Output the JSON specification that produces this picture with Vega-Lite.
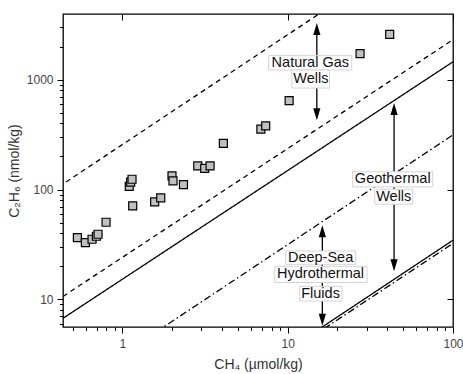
{
  "$schema": "https://vega.github.io/schema/vega-lite/v6.json",
  "width": 390,
  "height": 313,
  "autosize": {"type": "none"},
  "padding": {"left": 63, "top": 14, "right": 10, "bottom": 47},
  "config": {
    "view": {"stroke": "black", "strokeWidth": 1.3},
    "font": "Liberation Sans"
  },
  "datasets": {
    "lines": [
      {"id": "A", "style": "dash", "x": 0.3, "y": 77},
      {"id": "A", "style": "dash", "x": 20, "y": 5160},
      {"id": "B", "style": "dash", "x": 0.437, "y": 10.6},
      {"id": "B", "style": "dash", "x": 100, "y": 2320},
      {"id": "C", "style": "solid", "x": 0.437, "y": 6.7},
      {"id": "C", "style": "solid", "x": 100, "y": 1460},
      {"id": "D", "style": "dashdot", "x": 1.6, "y": 5.03},
      {"id": "D", "style": "dashdot", "x": 100, "y": 315},
      {"id": "E", "style": "solid", "x": 14, "y": 4.83},
      {"id": "E", "style": "solid", "x": 100, "y": 34.5},
      {"id": "F", "style": "dashdot", "x": 14, "y": 4.55},
      {"id": "F", "style": "dashdot", "x": 100, "y": 32.3}
    ],
    "points": [
      {"ch4": 0.534, "c2h6": 36.5},
      {"ch4": 0.597, "c2h6": 32.8},
      {"ch4": 0.655, "c2h6": 35.2},
      {"ch4": 0.696, "c2h6": 37.5},
      {"ch4": 0.712, "c2h6": 39.1},
      {"ch4": 0.796, "c2h6": 50.3},
      {"ch4": 1.154, "c2h6": 70.8},
      {"ch4": 1.10, "c2h6": 107},
      {"ch4": 1.122, "c2h6": 116.6},
      {"ch4": 1.143, "c2h6": 124},
      {"ch4": 1.567, "c2h6": 77},
      {"ch4": 1.706, "c2h6": 83.8},
      {"ch4": 1.995, "c2h6": 133},
      {"ch4": 2.023, "c2h6": 120},
      {"ch4": 2.34, "c2h6": 111},
      {"ch4": 2.855, "c2h6": 164},
      {"ch4": 3.147, "c2h6": 155.6},
      {"ch4": 3.39, "c2h6": 164},
      {"ch4": 4.08, "c2h6": 263},
      {"ch4": 6.88, "c2h6": 355},
      {"ch4": 7.36, "c2h6": 381},
      {"ch4": 10.2, "c2h6": 647},
      {"ch4": 27.4, "c2h6": 1730},
      {"ch4": 41.4, "c2h6": 2600}
    ],
    "arrows": [
      {"x": 15.0, "y": 2911, "y2": 486},
      {"x": 44.0, "y": 541, "y2": 20.4},
      {"x": 16.2, "y": 41.6, "y2": 6.5}
    ],
    "heads": [
      {"x": 15.0, "y": 2911, "dir": "up"},
      {"x": 15.0, "y": 486, "dir": "down"},
      {"x": 44.0, "y": 541, "dir": "up"},
      {"x": 44.0, "y": 20.4, "dir": "down"},
      {"x": 16.2, "y": 41.6, "dir": "up"},
      {"x": 16.2, "y": 6.5, "dir": "down"}
    ],
    "boxes": [
      {"x": 7.67, "x2": 24.4, "y": 1660, "y2": 1229},
      {"x": 10.6, "x2": 17.9, "y": 1229, "y2": 841},
      {"x": 24.7, "x2": 75.4, "y": 145, "y2": 105.6},
      {"x": 33.6, "x2": 57.0, "y": 100.6, "y2": 73.5},
      {"x": 9.72, "x2": 25.8, "y": 27.5, "y2": 20.8},
      {"x": 8.34, "x2": 30.2, "y": 19.95, "y2": 14.2},
      {"x": 11.8, "x2": 21.3, "y": 13.1, "y2": 9.63}
    ],
    "labels": [
      {"x": 13.7, "y": 1432, "text": "Natural Gas"},
      {"x": 13.8, "y": 1013, "text": "Wells"},
      {"x": 43.2, "y": 123.7, "text": "Geothermal"},
      {"x": 43.8, "y": 85.9, "text": "Wells"},
      {"x": 15.8, "y": 23.9, "text": "Deep-Sea"},
      {"x": 15.8, "y": 16.8, "text": "Hydrothermal"},
      {"x": 15.8, "y": 11.2, "text": "Fluids"}
    ]
  },
  "resolve": {"axis": {"x": "independent", "y": "independent"}},
  "layer": [
    {
      "data": {"name": "lines"},
      "mark": {"type": "line", "clip": true, "color": "black", "strokeWidth": 1.3},
      "encoding": {
        "x": {
          "field": "x", "type": "quantitative",
          "scale": {"type": "log", "domain": [0.437, 100], "nice": false, "zero": false},
          "axis": {
            "orient": "bottom",
            "title": "CH₄ (µmol/kg)",
            "values": [0.5, 0.6, 0.7, 0.8, 0.9, 1, 2, 3, 4, 5, 6, 7, 8, 9, 10, 20, 30, 40, 50, 60, 70, 80, 90, 100],
            "labelExpr": "indexof([1,10,100], datum.value) >= 0 ? '' + datum.value : ''",
            "tickSize": {"condition": {"test": "indexof([1,10,100], datum.value) >= 0", "value": 6}, "value": 3.5},
            "tickColor": "black",
            "tickWidth": 1,
            "domain": false,
            "grid": false,
            "labelOverlap": false,
            "labelFlush": false,
            "labelPadding": 5,
            "labelFontSize": 12,
            "labelColor": "#444",
            "titleFontSize": 14,
            "titleFontWeight": "normal",
            "titleColor": "#333",
            "titlePadding": 8
          }
        },
        "y": {
          "field": "y", "type": "quantitative",
          "scale": {"type": "log", "domain": [5.58, 3981], "nice": false, "zero": false},
          "axis": {
            "orient": "left",
            "title": "C₂H₆ (nmol/kg)",
            "values": [6, 7, 8, 9, 10, 20, 30, 40, 50, 60, 70, 80, 90, 100, 200, 300, 400, 500, 600, 700, 800, 900, 1000, 2000, 3000],
            "labelExpr": "indexof([10,100,1000], datum.value) >= 0 ? '' + datum.value : ''",
            "tickSize": {"condition": {"test": "indexof([10,100,1000], datum.value) >= 0", "value": 6}, "value": 3.5},
            "tickColor": "black",
            "tickWidth": 1,
            "domain": false,
            "grid": false,
            "labelOverlap": false,
            "labelFlush": false,
            "labelPadding": 4,
            "labelFontSize": 12,
            "labelColor": "#444",
            "titleFontSize": 14,
            "titleFontWeight": "normal",
            "titleColor": "#333",
            "titlePadding": 5
          }
        },
        "detail": {"field": "id"},
        "strokeDash": {
          "field": "style", "type": "nominal",
          "scale": {"domain": ["dash", "solid", "dashdot"], "range": [[5, 4], [1, 0], [7, 3, 1.5, 3]]},
          "legend": null
        }
      }
    },
    {
      "data": {"name": "arrows"},
      "mark": {"type": "rule", "color": "black", "strokeWidth": 1.3},
      "encoding": {
        "x": {"field": "x", "type": "quantitative", "scale": {"type": "log", "domain": [0.437, 100], "nice": false, "zero": false}, "axis": null},
        "y": {"field": "y", "type": "quantitative", "scale": {"type": "log", "domain": [5.58, 3981], "nice": false, "zero": false}, "axis": null},
        "y2": {"field": "y2"}
      }
    },
    {
      "data": {"name": "heads"},
      "mark": {"type": "point", "filled": true, "color": "black", "opacity": 1, "size": 144},
      "encoding": {
        "x": {"field": "x", "type": "quantitative", "scale": {"type": "log", "domain": [0.437, 100], "nice": false, "zero": false}, "axis": null},
        "y": {"field": "y", "type": "quantitative", "scale": {"type": "log", "domain": [5.58, 3981], "nice": false, "zero": false}, "axis": null},
        "shape": {
          "field": "dir", "type": "nominal",
          "scale": {"domain": ["up", "down"], "range": ["M0,-1L0.6,1L-0.6,1Z", "M0,1L0.6,-1L-0.6,-1Z"]},
          "legend": null
        }
      }
    },
    {
      "data": {"name": "boxes"},
      "mark": {"type": "rect", "fill": "white", "stroke": "#d4d4d4", "strokeWidth": 1},
      "encoding": {
        "x": {"field": "x", "type": "quantitative", "scale": {"type": "log", "domain": [0.437, 100], "nice": false, "zero": false}, "axis": null},
        "x2": {"field": "x2"},
        "y": {"field": "y", "type": "quantitative", "scale": {"type": "log", "domain": [5.58, 3981], "nice": false, "zero": false}, "axis": null},
        "y2": {"field": "y2"}
      }
    },
    {
      "data": {"name": "labels"},
      "mark": {"type": "text", "fontSize": 14.5, "color": "#111", "align": "center", "baseline": "middle", "font": "Liberation Sans"},
      "encoding": {
        "x": {"field": "x", "type": "quantitative", "scale": {"type": "log", "domain": [0.437, 100], "nice": false, "zero": false}, "axis": null},
        "y": {"field": "y", "type": "quantitative", "scale": {"type": "log", "domain": [5.58, 3981], "nice": false, "zero": false}, "axis": null},
        "text": {"field": "text"}
      }
    },
    {
      "data": {"name": "points"},
      "mark": {"type": "point", "shape": "square", "filled": true, "fill": "#c0c0c0", "stroke": "black", "strokeWidth": 1.2, "opacity": 1, "size": 64},
      "encoding": {
        "x": {
          "field": "ch4", "type": "quantitative",
          "scale": {"type": "log", "domain": [0.437, 100], "nice": false, "zero": false},
          "axis": {"orient": "top", "offset": -6, "values": [1, 10, 100], "labels": false, "title": null, "domain": false, "grid": false, "tickSize": 6, "tickColor": "black", "tickWidth": 1}
        },
        "y": {
          "field": "c2h6", "type": "quantitative",
          "scale": {"type": "log", "domain": [5.58, 3981], "nice": false, "zero": false},
          "axis": {"orient": "right", "offset": -6, "values": [10, 100, 1000], "labels": false, "title": null, "domain": false, "grid": false, "tickSize": 6, "tickColor": "black", "tickWidth": 1}
        }
      }
    }
  ]
}
